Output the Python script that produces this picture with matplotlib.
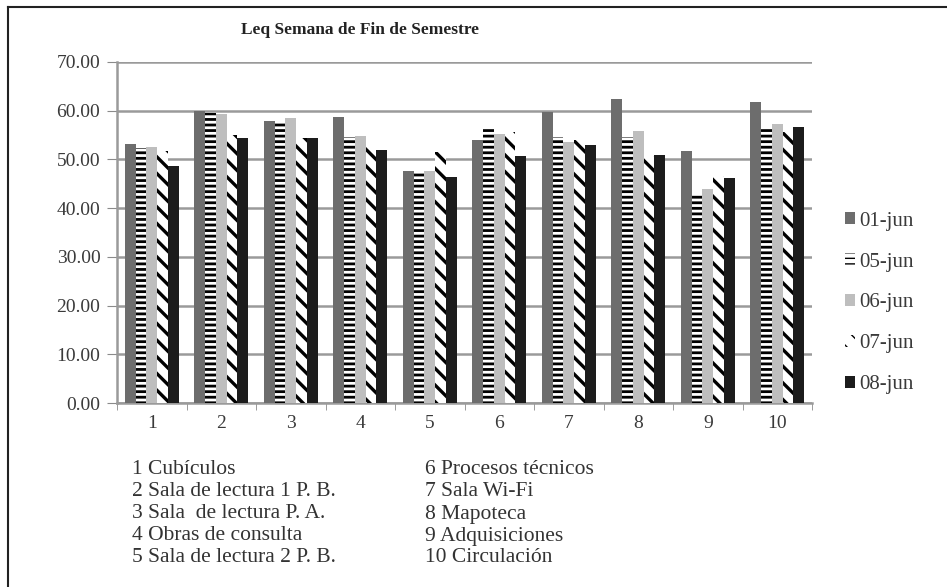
import numpy as np
import matplotlib
matplotlib.use("Agg")
import matplotlib.pyplot as plt
from matplotlib.lines import Line2D

plt.rcParams['font.family'] = ['Liberation Serif', 'DejaVu Serif']

categories = ['1', '2', '3', '4', '5', '6', '7', '8', '9', '10']
series_names = ['01-jun', '05-jun', '06-jun', '07-jun', '08-jun']
jun01 = [53.1, 59.9, 57.8, 58.8, 47.6, 54.0, 59.8, 62.4, 51.8, 61.7]
jun05 = [52.4, 59.5, 57.8, 54.6, 47.6, 56.3, 54.6, 54.6, 43.0, 56.3]
jun06 = [52.5, 59.3, 58.5, 54.9, 47.6, 55.2, 53.5, 55.9, 44.0, 57.3]
jun07 = [51.8, 55.0, 54.4, 52.7, 51.5, 55.6, 54.0, 50.7, 46.7, 55.6]
jun08 = [48.6, 54.4, 54.4, 52.0, 46.4, 50.8, 52.9, 51.0, 46.1, 56.6]
area_names = ['1 Cubículos', '2 Sala de lectura 1 P. B.', '3 Sala  de lectura P. A.',
              '4 Obras de consulta', '5 Sala de lectura 2 P. B.',
              '6 Procesos técnicos', '7 Sala Wi-Fi', '8 Mapoteca',
              '9 Adquisiciones', '10 Circulación']

data = [jun01, jun05, jun06, jun07, jun08]
faces = ['#6d6d6d', 'white', '#bebebe', 'white', '#1c1c1c']
hatches = [None, '---', None, '\\\\', None]
hatch_lw = [1.0, 2.0, 1.0, 2.4, 1.0]

fig = plt.figure(figsize=(9.47, 5.87), dpi=100)
ax = fig.add_axes([117/947, 1-403/587, (812-117)/947, (403-62)/587])

x = np.arange(1, len(categories) + 1)
w = 0.77 / 5
for i, vals in enumerate(data):
    with plt.rc_context({'hatch.linewidth': hatch_lw[i]}):
        ax.bar(x - 0.385 + w*(i + 0.5), vals, w, color=faces[i], hatch=hatches[i],
               edgecolor='black', linewidth=0, label=series_names[i], zorder=3)

ax.set_xlim(0.5, 10.5)
ax.set_ylim(0, 70)
ax.set_yticks(np.arange(0, 71, 10))
ax.set_yticklabels(['%.2f' % v for v in np.arange(0, 71, 10)], fontsize=14, color='#3a3a3a')
ax.yaxis.grid(True, color='#9a9a9a', linewidth=1.8, zorder=0)
ax.set_xticks(x)
ax.set_xticklabels(categories, fontsize=14, color='#3a3a3a')
ax.set_xticks(np.arange(0.5, 11, 1), minor=True)
ax.tick_params(axis='x', which='major', length=0, pad=9)
ax.tick_params(axis='x', which='minor', length=5, color='#8a8a8a')
ax.tick_params(axis='y', length=7, color='#8a8a8a', pad=5)
for s in ['top', 'right']:
    ax.spines[s].set_visible(False)
for s in ['left', 'bottom']:
    ax.spines[s].set_color('#9a9a9a')
    ax.spines[s].set_linewidth(1.8)

fig.text(360/947, 1-30/587, 'Leq Semana de Fin de Semestre', ha='center', va='center',
         fontsize=12.5, fontweight='bold', color='#222222')

fig.legend(loc='center left', bbox_to_anchor=(845/947, 1-303/587), frameon=False,
           fontsize=15, handlelength=0.5, handleheight=0.5, handletextpad=0.2,
           labelspacing=1.05, borderpad=0, borderaxespad=0, labelcolor='#3a3a3a')

for k, name in enumerate(area_names):
    col = k // 5
    row = k % 5
    fig.text((132 + col*293)/947, 1-(470 + row*22)/587, name, ha='left', va='center',
             fontsize=15.5, color='#333333')

# frame left/top
fig.add_artist(Line2D([8/947, 8/947], [0, 1-7/587], color='#222222', lw=1.5))
fig.add_artist(Line2D([8/947, 1], [1-7/587, 1-7/587], color='#222222', lw=1.5))

fig.savefig('out.png', dpi=100)
